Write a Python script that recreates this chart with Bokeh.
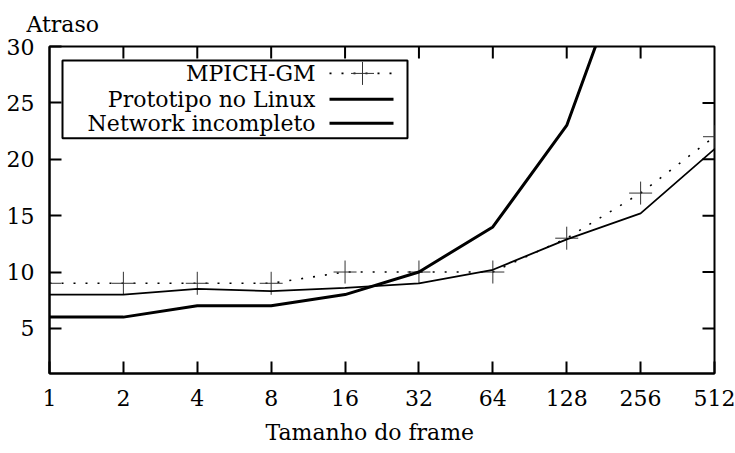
import numpy as np
from bokeh.plotting import figure
from bokeh.models import Range1d, FixedTicker, BasicTickFormatter, BoxAnnotation, Label, Title
from bokeh.embed import file_html
from bokeh.resources import INLINE

# ---------------- data ----------------
frame_sizes = [1, 2, 4, 8, 16, 32, 64, 128, 256, 512]
mpich_gm = [9, 9, 9, 9, 10, 10, 10, 13, 17, 22]
prototipo_sizes = [1, 2, 4, 8, 16, 32, 64, 128, 256]
prototipo_linux = [6, 6, 7, 7, 8, 10, 14, 23, 41]
network_incompleto = [8, 8, 8.5, 8.3, 8.6, 9.0, 10.2, 12.9, 15.2, 20.9]
y_ticks = [5, 10, 15, 20, 25, 30]
series_names = ["MPICH-GM", "Prototipo no Linux", "Network incompleto"]

FONT = "DejaVu Serif"
FS = "22px"

W, H = 735, 453
BL, BR, BT, BB = 49, 21, 45, 80
FRAME_W = W - BL - BR
FRAME_H = H - BT - BB
X0, X1 = 1, 512
Y0, Y1 = 1, 30

p = figure(width=W, height=H, x_axis_type="log",
           x_range=Range1d(X0, X1), y_range=Range1d(Y0, Y1),
           output_backend="svg", toolbar_location=None,
           min_border_left=BL, min_border_right=BR,
           min_border_top=BT, min_border_bottom=BB)
p.grid.visible = False
p.outline_line_color = "black"
p.outline_line_width = 2
p.background_fill_color = "white"
p.border_fill_color = "white"

p.title.text = "Atraso"
p.title.align = "left"
p.title.offset = -23
p.title.text_font = FONT
p.title.text_font_size = FS
p.title.text_font_style = "normal"
p.title.text_color = "black"
p.title.standoff = 19

p.xaxis.ticker = FixedTicker(ticks=frame_sizes, minor_ticks=[])
p.xaxis.formatter = BasicTickFormatter(use_scientific=False)
p.yaxis.ticker = FixedTicker(ticks=y_ticks, minor_ticks=[])
for ax in p.xaxis + p.yaxis:
    ax.major_tick_in = 12
    ax.major_tick_out = 0
    ax.minor_tick_in = 0
    ax.minor_tick_out = 0
    ax.major_tick_line_width = 2
    ax.major_tick_line_color = "black"
    ax.axis_line_width = 2
    ax.axis_line_color = "black"
    ax.major_label_text_font = FONT
    ax.major_label_text_font_size = FS
    ax.major_label_text_color = "black"
p.xaxis.major_label_standoff = 16
p.yaxis.major_label_standoff = 15

xlabel = Title(text="Tamanho do frame", align="left", offset=216,
               text_font=FONT, text_font_size=FS, text_font_style="normal",
               text_color="black", standoff=18)
p.add_layout(xlabel, "below")

# mirrored inward ticks on top and right edges, built from the tick lists
TICK = 12
dy = TICK * (Y1 - Y0) / FRAME_H
fx_tick = 2 ** (TICK * np.log2(X1 / X0) / FRAME_W)
top_x = [t for t in frame_sizes if X0 < t < X1]
p.segment(x0=top_x, y0=[Y1] * len(top_x), x1=top_x, y1=[Y1 - dy] * len(top_x),
          line_color="black", line_width=2)
right_y = [t for t in y_ticks if Y0 < t < Y1]
p.segment(x0=[X1] * len(right_y), y0=right_y, x1=[X1 / fx_tick] * len(right_y), y1=right_y,
          line_color="black", line_width=2)

# ---------------- series ----------------
p.line(frame_sizes, mpich_gm, line_color="black", line_width=1.6, line_dash="2 10")
p.scatter(frame_sizes, mpich_gm, marker="cross", size=23, line_color="#333333", line_width=1)
p.line(prototipo_sizes, prototipo_linux, line_color="black", line_width=3)
p.line(frame_sizes, network_incompleto, line_color="black", line_width=1.8)

# ---------------- legend (gnuplot style: label, then sample) ----------------
def fx(px):
    return X0 * 2 ** ((px - BL) / FRAME_W * np.log2(X1 / X0))

def fy(py):
    return Y1 - (py - BT) / FRAME_H * (Y1 - Y0)

p.add_layout(BoxAnnotation(left=fx(62), right=fx(407), top=fy(59), bottom=fy(137),
                           fill_color="white", fill_alpha=1,
                           line_color="black", line_alpha=1, line_width=2))
rows_py = [72, 98, 122]
for name, py in zip(series_names, rows_py):
    p.add_layout(Label(x=fx(315), y=fy(py), text=name, text_align="right",
                       text_baseline="middle", text_font=FONT, text_font_size=FS,
                       text_color="black"))
s0, s1 = fx(329), fx(393)
p.segment(x0=[s0], y0=[fy(rows_py[0])], x1=[s1], y1=[fy(rows_py[0])],
          line_color="black", line_width=1.6, line_dash="2 10", level="overlay")
p.scatter(x=[fx(362)], y=[fy(rows_py[0])], marker="cross", size=23,
          line_color="#333333", line_width=1, level="overlay")
p.segment(x0=[s0], y0=[fy(rows_py[1])], x1=[s1], y1=[fy(rows_py[1])],
          line_color="black", line_width=3, level="overlay")
p.segment(x0=[s0], y0=[fy(rows_py[2])], x1=[s1], y1=[fy(rows_py[2])],
          line_color="black", line_width=3, level="overlay")

open("out.html", "w").write(file_html(p, INLINE))
